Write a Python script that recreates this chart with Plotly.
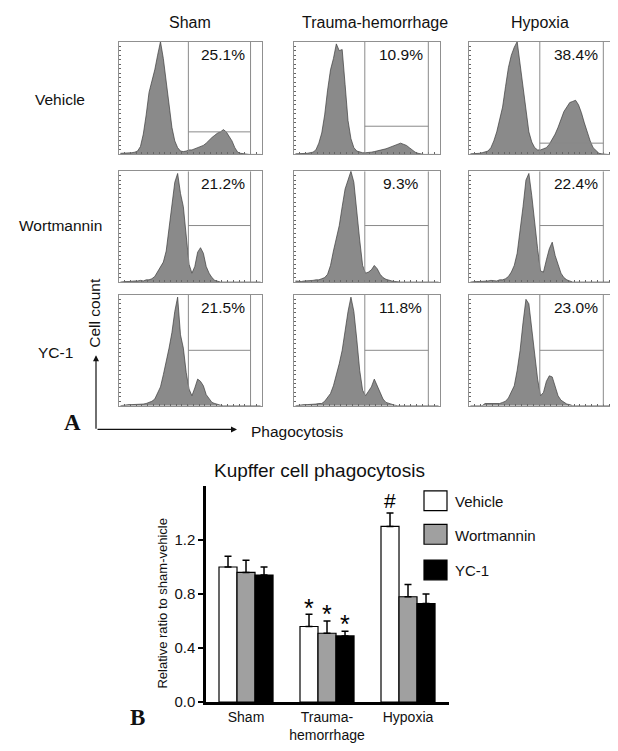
import plotly.graph_objects as go

W, H = 618, 751
SANS = "Liberation Sans, Arial, sans-serif"
SERIF = "Liberation Serif, Times New Roman, serif"

# ---------------- Panel A data: flow-cytometry histograms ----------------
conditions = ["Sham", "Trauma-hemorrhage", "Hypoxia"]
treatments = ["Vehicle", "Wortmannin", "YC-1"]
channel_bins = [i * 2 for i in range(50)]  # fluorescence channel (% of scale), bin left edges

sham_vehicle = [1, 1, 1, 1.5, 1.5, 2, 3, 7, 18, 35, 55, 65, 75, 88, 100, 85, 65, 42, 24, 12,
                6, 3, 2.5, 3, 4, 4, 5, 6, 7, 8, 10, 13, 15, 17, 19, 20, 22, 20, 16, 12,
                6, 2, 1, 0.5, 0, 0, 0, 0, 0, 0]
th_vehicle = [0.5, 0.5, 0.5, 1, 1, 1.5, 2, 4, 10, 19, 35, 57, 75, 85, 98, 92, 93, 62, 30, 14,
              6, 3, 2, 1.5, 1.5, 1.5, 2, 2.5, 3, 4, 4.5, 5, 6, 7, 8, 9, 10, 9, 8, 6,
              4, 2, 1, 0.3, 0, 0, 0, 0, 0, 0]
hypoxia_vehicle = [0.5, 0.5, 1, 1, 1.5, 2, 3, 6, 12, 20, 32, 42, 60, 77, 88, 95, 100, 80, 58, 39,
                   20, 11, 6, 4, 4, 5, 6, 9, 13, 18, 24, 32, 38, 42, 46, 47, 48, 44, 37, 28,
                   19, 12, 6, 3, 1, 0.5, 0, 0, 0, 0]
sham_wortmannin = [0, 0.5, 0.5, 0.5, 1, 1, 1, 1.5, 1, 2, 2, 3, 5, 9, 13, 18, 28, 50, 70, 90,
                   98, 80, 68, 42, 16, 8, 14, 27, 31, 26, 14, 8, 4, 1.5, 0.5, 0, 0, 0, 0, 0,
                   0, 0, 0, 0, 0, 0, 0, 0, 0, 0]
th_wortmannin = [1, 0.5, 0.5, 1, 1, 1, 1.5, 2, 2, 3, 4, 7, 15, 28, 40, 51, 68, 84, 92, 100,
                 90, 62, 38, 15, 8, 9, 11, 15, 12, 7, 4, 2.5, 1.5, 1, 0.5, 0, 0, 0, 0, 0,
                 0, 0, 0, 0, 0, 0, 0, 0, 0, 0]
hypoxia_wortmannin = [0, 0.5, 0.5, 0.5, 0.5, 1, 1, 1.5, 1.5, 1, 2, 2, 3, 5, 9, 15, 26, 45, 68, 92,
                      98, 78, 52, 30, 10, 9, 20, 30, 36, 24, 16, 8, 4, 2, 1, 0, 0, 0, 0, 0,
                      0, 0, 0, 0, 0, 0, 0, 0, 0, 0]
sham_yc1 = [0, 0.5, 0.5, 1, 1, 1, 1, 1.5, 1.5, 2, 3, 4, 6, 11, 17, 28, 39, 52, 66, 85,
            98, 64, 52, 30, 15, 9, 16, 24, 22, 18, 10, 6, 3, 2, 1, 0.5, 0, 0, 0, 0,
            0, 0, 0, 0, 0, 0, 0, 0, 0, 0]
th_yc1 = [0, 0.5, 0.5, 1, 1, 1, 1, 1.5, 2, 2, 4, 7, 11, 18, 27, 38, 50, 69, 85, 98,
          85, 60, 32, 14, 9, 13, 17, 24, 18, 11, 6, 3, 2, 1, 0.5, 0, 0, 0, 0, 0,
          0, 0, 0, 0, 0, 0, 0, 0, 0, 0]
hypoxia_yc1 = [0, 0, 0, 0, 0, 2, 2, 1.5, 2, 1.5, 2, 3, 4, 7, 12, 18, 32, 50, 75, 96,
               92, 70, 45, 24, 9, 12, 22, 27, 26, 17, 9, 5, 3, 1.5, 1, 0, 0, 0, 0, 0,
               0, 0, 0, 0, 0, 0, 0, 0, 0, 0]

gated_pct_vehicle = ["25.1%", "10.9%", "38.4%"]
gated_pct_wortmannin = ["21.2%", "9.3%", "22.4%"]
gated_pct_yc1 = ["21.5%", "11.8%", "23.0%"]

gate_start = 48.5
gate_end = 92
gate_level_vehicle = [20, 25, 10]
gate_level_wortmannin = [51, 51, 51]
gate_level_yc1 = [50, 50, 50]

# ---------------- Panel B data: bar chart ----------------
group_labels = ["Sham", "Trauma-<br>hemorrhage", "Hypoxia"]
ratio_vehicle = [1.00, 0.56, 1.30]
ratio_wortmannin = [0.96, 0.51, 0.78]
ratio_yc1 = [0.94, 0.49, 0.73]
sem_vehicle = [0.08, 0.09, 0.10]
sem_wortmannin = [0.09, 0.09, 0.09]
sem_yc1 = [0.06, 0.035, 0.07]
sig_vehicle = ["", "*", "#"]
sig_wortmannin = ["", "*", ""]
sig_yc1 = ["", "*", ""]
y_ticks = [0.0, 0.4, 0.8, 1.2]

# ---------------- helpers ----------------
def px(x):
    return x / W

def py(y):
    return 1 - y / H

def label(x, y, text, size, family=SANS, angle=0, xanchor="center", color="#111"):
    return dict(xref="paper", yref="paper", x=px(x), y=py(y), text=text, showarrow=False,
                xanchor=xanchor, yanchor="middle", textangle=angle,
                font=dict(family=family, size=size, color=color))

fig = go.Figure()
layout = {}
shapes = []
annotations = []

col_px = [(111, 254), (286, 432), (461, 607)]
row_px = [(34, 148), (165, 277), (290, 402)]

hist_rows = [
    ([sham_vehicle, th_vehicle, hypoxia_vehicle], gated_pct_vehicle, gate_level_vehicle),
    ([sham_wortmannin, th_wortmannin, hypoxia_wortmannin], gated_pct_wortmannin, gate_level_wortmannin),
    ([sham_yc1, th_yc1, hypoxia_yc1], gated_pct_yc1, gate_level_yc1),
]
bin_centers = [b + 1 for b in channel_bins]

k = 0
for r, (counts_row, pct_row, level_row) in enumerate(hist_rows):
    for c in range(3):
        k += 1
        xs = "" if k == 1 else str(k)
        xa, ya = "x" + xs, "y" + xs
        fig.add_trace(go.Scatter(
            x=bin_centers, y=counts_row[c], mode="lines",
            line=dict(color="#3c3c3c", width=0.7),
            fill="tozeroy", fillcolor="#8a8a8a",
            xaxis=xa, yaxis=ya, showlegend=False, hoverinfo="skip"))
        x0, x1 = col_px[c]
        y0, y1 = row_px[r]
        layout["xaxis" + xs] = dict(
            domain=[px(x0), px(x1)], range=[0, 100], anchor=ya,
            showline=True, mirror=True, linecolor="#909090", linewidth=1,
            showgrid=False, zeroline=False, ticks="inside", ticklen=2,
            tickcolor="#666", tickwidth=1, dtick=4, showticklabels=False, fixedrange=True)
        layout["yaxis" + xs] = dict(
            domain=[py(y1), py(y0)], range=[0, 100], anchor=xa,
            showline=True, mirror=True, linecolor="#909090", linewidth=1,
            showgrid=False, zeroline=False, ticks="inside", ticklen=2,
            tickcolor="#666", tickwidth=1, dtick=4, showticklabels=False, fixedrange=True)
        line_style = dict(color="#8a8a8a", width=1)
        shapes.append(dict(type="line", xref=xa, yref=ya, x0=gate_start, x1=gate_start,
                           y0=0, y1=100, line=line_style))
        shapes.append(dict(type="line", xref=xa, yref=ya, x0=gate_end, x1=gate_end,
                           y0=0, y1=100, line=line_style))
        shapes.append(dict(type="line", xref=xa, yref=ya, x0=gate_start, x1=gate_end,
                           y0=level_row[c], y1=level_row[c], line=line_style))
        annotations.append(dict(xref=xa, yref=ya, x=73, y=89, text=pct_row[c],
                                showarrow=False, xanchor="center", yanchor="middle",
                                font=dict(family=SANS, size=15.5, color="#111")))

# column titles
title_x = [182, 367, 532]
for name, x in zip(conditions, title_x):
    annotations.append(label(x, 15, name, 16))
# row labels
row_label_pos = [(52, 92), (52, 220), (47, 348)]
for name, (x, y) in zip(treatments, row_label_pos):
    annotations.append(label(x, y, name, 15.5))

# axis arrows of panel A
annotations.append(dict(xref="paper", yref="paper", x=px(88), y=py(351), ax=0, ay=75,
                        text="", showarrow=True, arrowhead=2, arrowsize=1, arrowwidth=1.2,
                        arrowcolor="#111"))
annotations.append(dict(xref="paper", yref="paper", x=px(229), y=py(426), ax=-141, ay=0,
                        text="", showarrow=True, arrowhead=2, arrowsize=1, arrowwidth=1.2,
                        arrowcolor="#111"))
annotations.append(label(87, 308, "Cell count", 15.5, angle=-90))
annotations.append(label(289, 428, "Phagocytosis", 15.5))
annotations.append(label(64, 419, "<b>A</b>", 23, family=SERIF))

# ---------------- Panel B ----------------
bar_colors = ["white", "#a0a0a0", "black"]
series = [("Vehicle", ratio_vehicle, sem_vehicle, sig_vehicle),
          ("Wortmannin", ratio_wortmannin, sem_wortmannin, sig_wortmannin),
          ("YC-1", ratio_yc1, sem_yc1, sig_yc1)]
group_pos = list(range(len(group_labels)))
bargap = 0.333
bar_w = (1 - bargap) / len(series)
for j, (name, vals, sems, sigs) in enumerate(series):
    fig.add_trace(go.Bar(
        x=group_pos, y=vals, name=name, showlegend=False,
        marker=dict(color=bar_colors[j], line=dict(color="black", width=1.2)),
        error_y=dict(type="data", array=sems, arrayminus=[0] * len(sems), symmetric=False,
                     color="black", thickness=1.5, width=3.5),
        xaxis="x10", yaxis="y10", hoverinfo="skip"))
    offset = (j - 1) * bar_w
    for i, s in enumerate(sigs):
        if s:
            pad, size = (0.05, 25) if s == "*" else (0.095, 21)
            annotations.append(dict(xref="x10", yref="y10", x=group_pos[i] + offset,
                                    y=vals[i] + sems[i] + pad, text=s, showarrow=False,
                                    xanchor="center", yanchor="middle",
                                    font=dict(family=SANS, size=size, color="black")))

layout["xaxis10"] = dict(domain=[px(198), px(441)], range=[-0.494, 2.506], anchor="y10",
                         tickvals=group_pos, ticktext=group_labels, ticks="",
                         showline=True, linecolor="black", linewidth=2.5,
                         showgrid=False, zeroline=False,
                         tickfont=dict(family=SANS, size=14, color="#111"), fixedrange=True)
layout["yaxis10"] = dict(domain=[py(701.7), py(483)], range=[0, 1.6], anchor="x10",
                         tickvals=y_ticks, ticktext=[f"{v:.1f}" for v in y_ticks],
                         ticks="outside", ticklen=5, tickwidth=1.5, tickcolor="black",
                         showline=True, linecolor="black", linewidth=2.5,
                         showgrid=False, zeroline=False,
                         tickfont=dict(family=SANS, size=15, color="#111"), fixedrange=True)

annotations.append(label(311, 467, "Kupffer cell phagocytosis", 19))
annotations.append(label(155, 602, "Relative ratio to sham-vehicle", 13, angle=-90))
annotations.append(label(129, 717, "<b>B</b>", 23, family=SERIF))

# manual legend
legend_rows = [(488, 508), (522, 542), (558, 578)]
for (name, _, _, _), col, (t, b) in zip(series, bar_colors, legend_rows):
    shapes.append(dict(type="rect", xref="paper", yref="paper", x0=px(416), x1=px(439),
                       y0=py(b), y1=py(t), fillcolor=col, line=dict(color="black", width=1.2)))
    annotations.append(label(445, (t + b) / 2 + 1, name, 15, xanchor="left"))

fig.update_layout(
    width=W, height=H, margin=dict(l=0, r=0, t=0, b=0),
    paper_bgcolor="white", plot_bgcolor="white",
    barmode="group", bargap=bargap, bargroupgap=0,
    shapes=shapes, annotations=annotations, showlegend=False,
    **layout)

fig.write_html("out.html")
